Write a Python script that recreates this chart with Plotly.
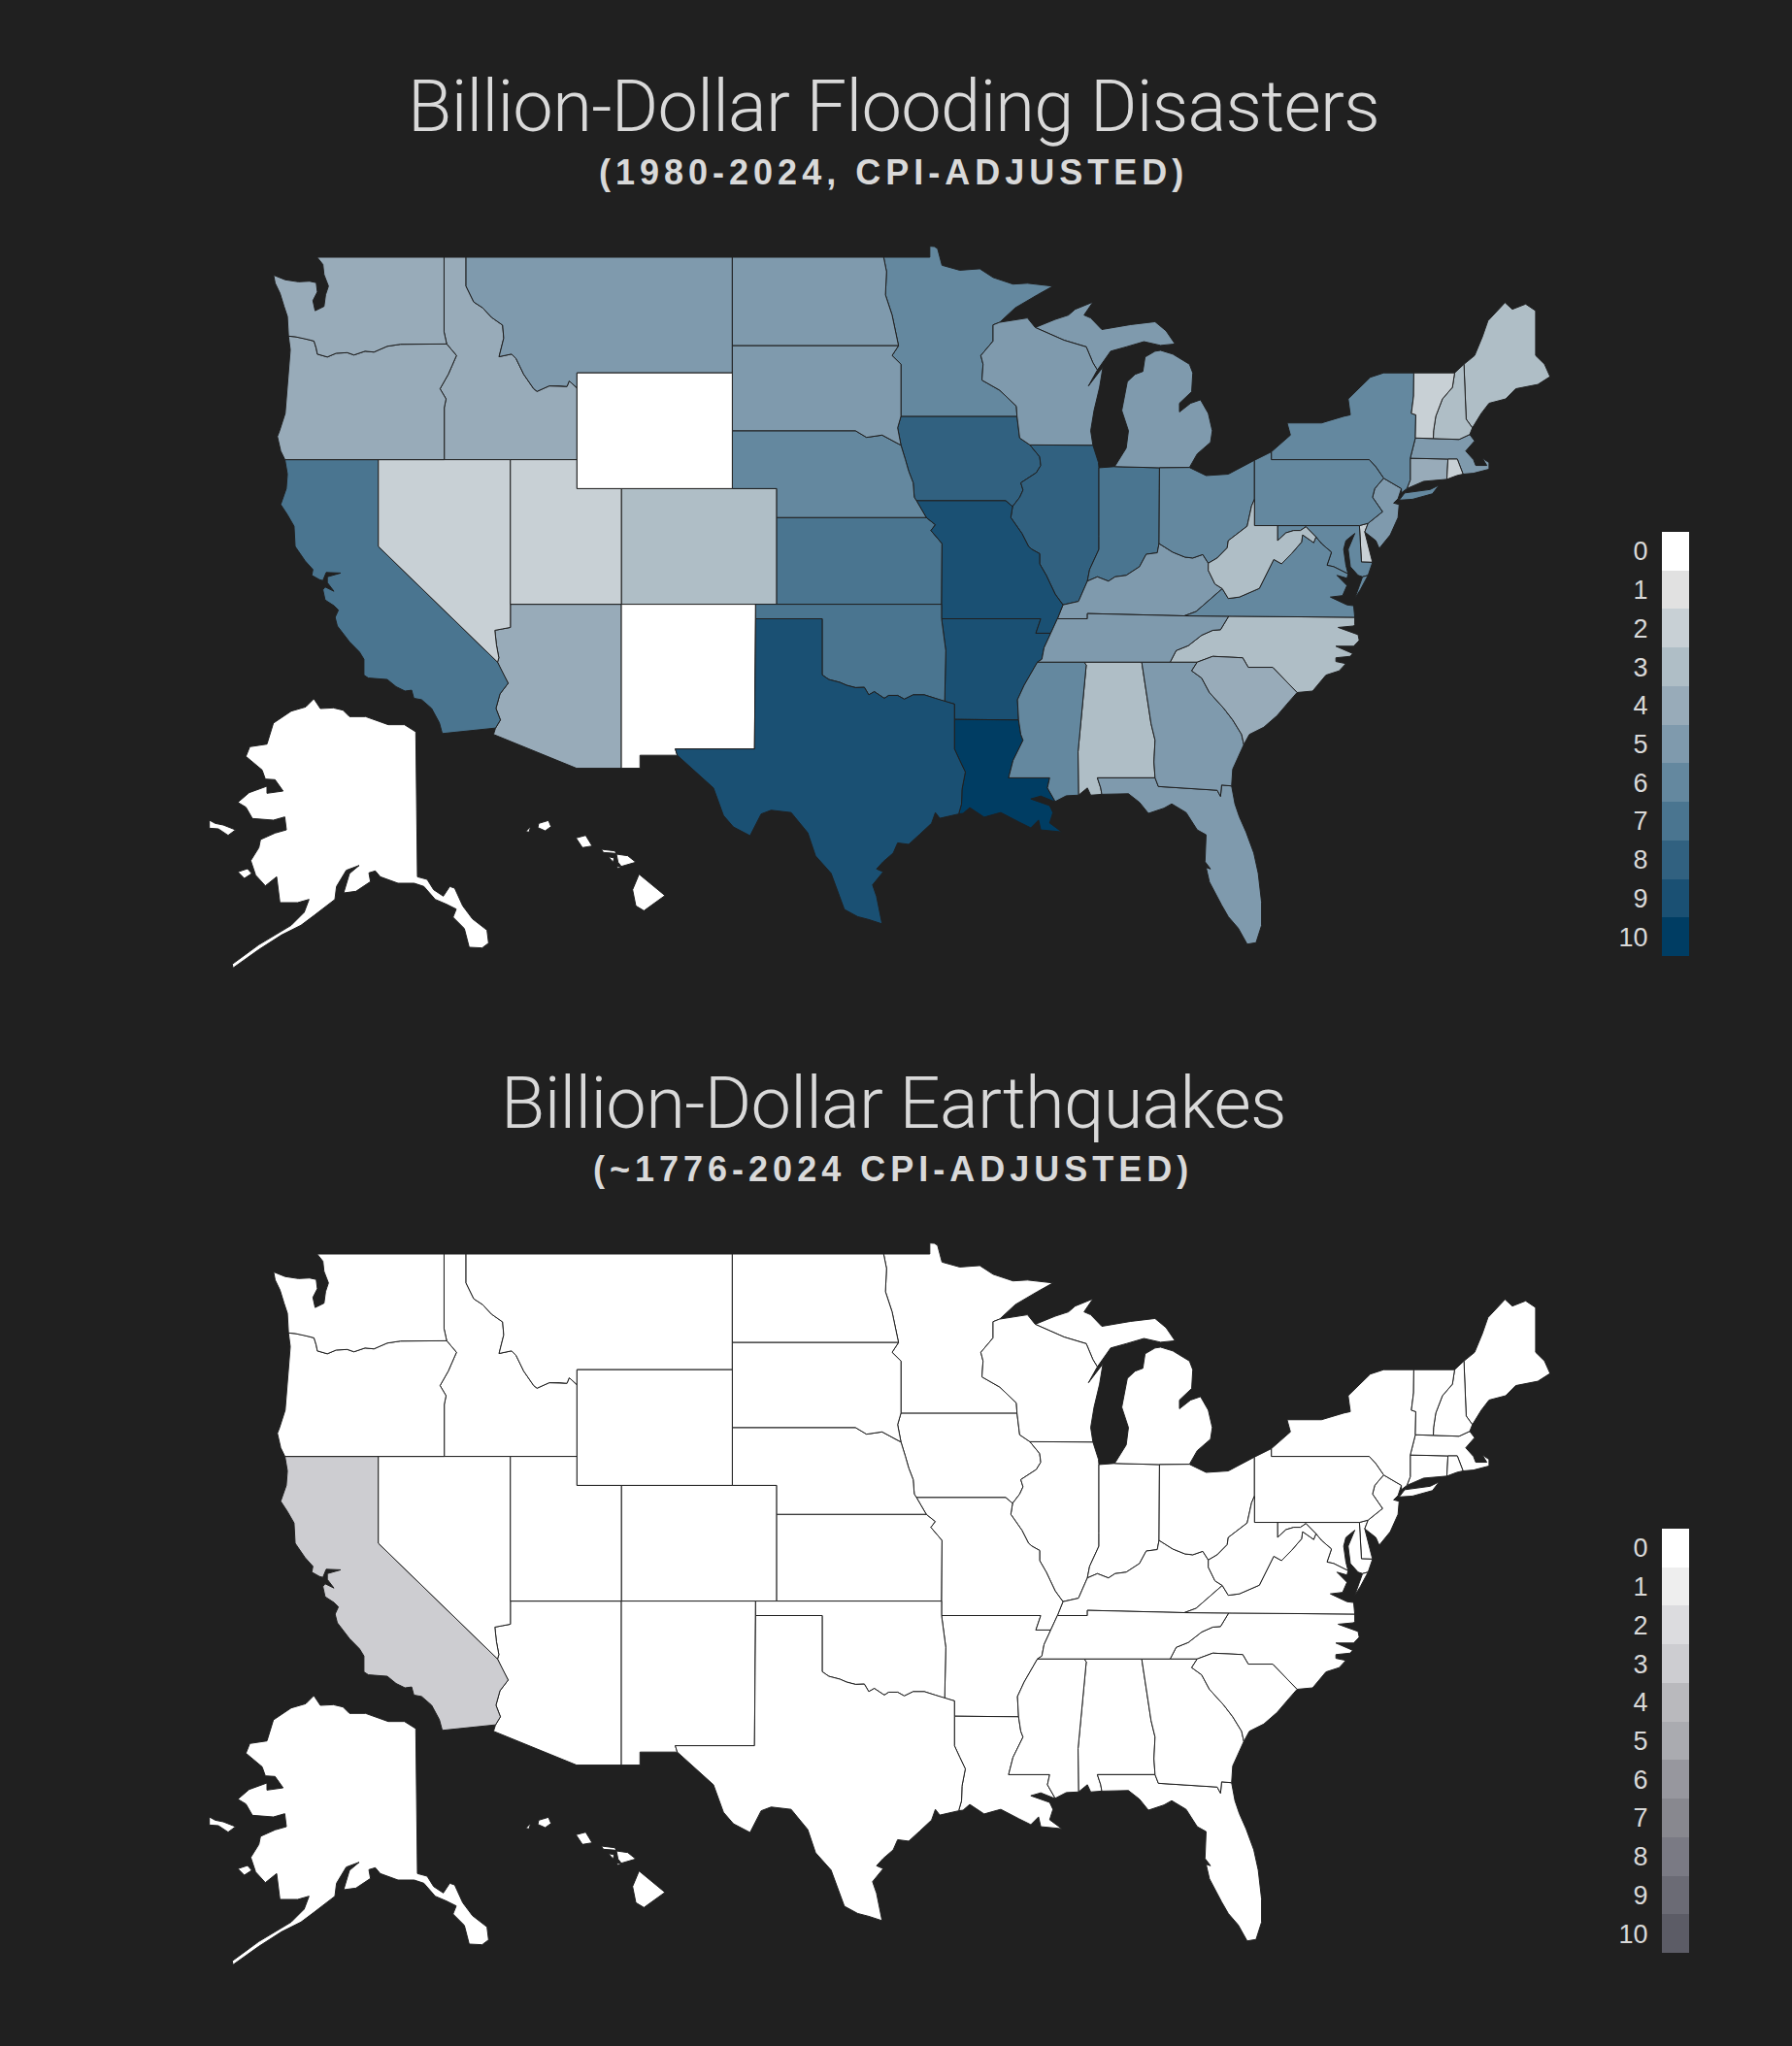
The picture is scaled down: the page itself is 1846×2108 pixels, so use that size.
import plotly.graph_objects as go

# values per state
STATES = ["AK","AL","AR","AZ","CA","CO","CT","DE","FL","GA","HI","IA","ID","IL","IN","KS","KY","LA","MA","MD",
          "ME","MI","MN","MO","MS","MT","NC","ND","NE","NH","NJ","NM","NV","NY","OH","OK","OR","PA","RI","SC",
          "SD","TN","TX","UT","VA","VT","WA","WI","WV","WY"]
FLOOD = [0,3,9,4,7,3,4,2,5,5,0,8,4,8,7,7,5,10,5,6,
         3,5,6,9,6,5,3,5,6,3,5,0,2,6,6,7,4,6,2,4,
         5,5,9,2,6,2,4,5,3,0]
QUAKE = [3 if s == "CA" else 0 for s in STATES]

LEVELS = list(range(11))
BLUES = ["#ffffff","#e1e1e1","#c8d0d5","#afbec6","#98abb9","#7f9aad","#64889f","#4a7590","#316180","#1a5073","#003d63"]
GREYS = ["#ffffff","#eeeeee","#dcdcdf","#cdcdd1","#b9b9bd","#aaabb0","#97979e","#88888f","#7a7a84","#6b6b75","#5c5c66"]

TITLES = ["Billion-Dollar Flooding Disasters", "Billion-Dollar Earthquakes"]
SUBTITLES = ["(1980-2024, CPI-ADJUSTED)", "(~1776-2024 CPI-ADJUSTED)"]

BG = "#202020"
TXT = "#d9d9d9"

# No geodata is available offline (plotly fetches its topojson from a CDN),
# so these outlines are hand traced (lon, lat) and drawn on plain axes.
COLUMBIA = [(-124.05,46.27),(-123.75,46.25),(-123.4,46.2),(-123.15,46.15),(-122.9,46.1),(-122.8,45.85),(-122.75,45.65),(-122.3,45.55),(-121.9,45.68),(-121.4,45.7),(-121.1,45.62),(-120.6,45.75),(-120.2,45.72),(-119.6,45.92),(-119.0,45.99),(-116.92,46.0)]
WA_COAST = [(-124.05,46.27),(-124.07,46.65),(-124.1,46.95),(-124.25,47.3),(-124.43,47.75),(-124.65,48.1),(-124.72,48.38),(-124.2,48.22),(-123.6,48.15),(-123.1,48.17),(-122.8,48.12),(-122.75,47.8),(-122.95,47.5),(-122.85,47.15),(-122.45,47.3),(-122.38,47.7),(-122.25,48.0),(-122.45,48.4),(-122.5,48.75),(-122.76,49.0)]
OR_COAST = [(-124.05,46.27),(-123.97,45.8),(-124.05,45.0),(-124.12,44.4),(-124.2,43.6),(-124.45,43.0),(-124.55,42.8),(-124.4,42.3),(-124.21,42.0)]
SNAKE = [(-116.92,46.0),(-116.48,45.6),(-116.68,45.25),(-116.85,44.95),(-117.22,44.45),(-117.05,44.23),(-116.95,44.1),(-117.03,43.8),(-117.03,42.0)]
BITTERROOT = [(-116.05,49.0),(-116.05,48.0),(-115.7,47.45),(-115.3,47.25),(-114.9,46.92),(-114.4,46.65),(-114.35,46.2),(-114.56,45.56),(-114.0,45.65),(-113.8,45.5),(-113.45,44.95),(-113.0,44.45),(-112.85,44.36),(-112.3,44.55),(-111.85,44.55),(-111.5,44.53),(-111.4,44.72),(-111.05,44.48)]
CA_COAST = [(-124.21,42.0),(-124.1,41.5),(-124.15,41.0),(-124.4,40.45),(-124.1,40.1),(-123.8,39.7),(-123.75,39.0),(-123.3,38.5),(-122.95,38.2),(-123.0,38.0),(-122.65,37.85),(-122.5,37.82),(-122.35,38.1),(-121.7,38.08),(-122.3,37.95),(-122.3,37.75),(-122.0,37.45),(-122.4,37.6),(-122.5,37.5),(-122.4,37.15),(-122.0,36.95),(-121.8,36.8),(-121.95,36.55),(-121.85,36.25),(-121.3,35.7),(-120.85,35.35),(-120.65,35.1),(-120.65,34.55),(-120.45,34.45),(-119.6,34.4),(-119.2,34.15),(-118.8,34.0),(-118.5,34.03),(-118.4,33.75),(-118.05,33.7),(-117.6,33.4),(-117.25,32.9),(-117.12,32.53)]
COLORADO_R = [(-114.72,32.72),(-114.5,33.0),(-114.7,33.4),(-114.52,33.9),(-114.15,34.27),(-114.45,34.7),(-114.63,35.0)]
AZ_NV = [(-114.63,35.0),(-114.57,35.15),(-114.68,35.6),(-114.75,36.1),(-114.4,36.15),(-114.05,36.2),(-114.05,37.0)]
RED_R = [(-100.0,34.56),(-99.7,34.4),(-99.2,34.3),(-98.9,34.2),(-98.5,34.12),(-98.1,34.13),(-97.9,33.87),(-97.65,33.98),(-97.2,33.75),(-97.0,33.85),(-96.6,33.85),(-96.3,33.72),(-95.9,33.87),(-95.4,33.87),(-94.9,33.75),(-94.48,33.64)]
SABINE = [(-94.04,33.55),(-94.04,33.02),(-94.04,32.0),(-93.8,31.6),(-93.55,31.2),(-93.7,30.6),(-93.72,30.1),(-93.85,29.75)]
TX_COAST = [(-93.85,29.75),(-94.7,29.6),(-94.9,29.8),(-95.07,29.43),(-95.6,29.05),(-96.1,28.7),(-96.6,28.75),(-96.8,28.4),(-97.25,28.1),(-97.55,27.85),(-97.25,27.75),(-97.73,27.3),(-97.55,26.9),(-97.3,25.95)]
RIO_GRANDE = [(-97.3,25.95),(-97.9,26.1),(-98.4,26.2),(-99.0,26.45),(-99.4,27.25),(-99.6,27.7),(-100.3,28.3),(-100.65,29.1),(-101.4,29.8),(-102.3,29.88),(-102.75,29.75),(-103.25,29.0),(-104.0,29.3),(-104.45,29.7),(-104.9,30.65),(-106.0,31.4),(-106.53,31.78),(-106.62,32.0)]
MO_R = [(-96.45,42.5),(-96.25,42.0),(-96.1,41.6),(-95.9,41.2),(-95.85,40.7),(-95.75,40.58)]
NE_SD = [(-104.05,43.0),(-98.5,43.0),(-98.0,42.77),(-97.3,42.85),(-96.7,42.6),(-96.45,42.5)]
KS_MO = [(-95.75,40.58),(-95.31,40.0),(-94.9,39.75),(-95.1,39.55),(-94.6,39.1),(-94.62,37.0)]
SD_E = [(-96.56,45.94),(-96.85,45.6),(-96.45,45.3),(-96.45,43.5),(-96.6,43.1),(-96.45,42.5)]
ND_E = [(-97.23,49.0),(-97.1,48.5),(-97.15,47.7),(-96.85,47.0),(-96.56,45.94)]
MN_NORTH = [(-97.23,49.0),(-95.15,49.0),(-95.15,49.38),(-94.95,49.37),(-94.8,49.3),(-94.6,48.72),(-93.8,48.55),(-92.9,48.6),(-92.3,48.3),(-91.4,48.07),(-90.75,48.1),(-89.6,48.0),(-90.3,47.7),(-91.3,47.25),(-92.0,46.75)]
MN_WI = [(-92.0,46.75),(-92.3,46.66),(-92.3,46.1),(-92.85,45.6),(-92.75,45.3),(-92.8,44.75),(-92.0,44.4),(-91.25,43.85),(-91.22,43.5)]
IA_IL = [(-91.22,43.5),(-91.1,42.75),(-90.64,42.51),(-90.2,42.1),(-90.15,41.8),(-90.35,41.55),(-91.05,41.2),(-90.95,40.95),(-91.1,40.7),(-91.42,40.38)]
IL_MO = [(-91.42,40.38),(-91.5,40.0),(-91.0,39.45),(-90.7,39.0),(-90.55,38.9),(-90.2,38.75),(-90.2,38.4),(-89.9,38.0),(-89.5,37.35),(-89.15,36.98)]
MISS_TN = [(-89.7,36.0),(-90.0,35.5),(-90.1,35.1),(-90.3,35.0)]
MISS_AR = [(-90.3,35.0),(-90.6,34.6),(-90.9,34.2),(-91.2,33.7),(-91.15,33.0)]
MISS_LA = [(-91.15,33.0),(-91.05,32.5),(-90.95,32.3),(-91.4,31.6),(-91.6,31.0),(-89.75,31.0),(-89.85,30.65),(-89.5,30.18)]
LA_COAST = [(-89.5,30.18),(-89.6,30.2),(-90.15,30.37),(-90.6,30.27),(-89.75,30.04),(-89.6,29.8),(-89.75,29.44),(-89.2,29.13),(-90.15,29.2),(-90.25,29.54),(-90.6,29.27),(-91.15,29.48),(-91.95,29.8),(-92.1,29.77),(-92.7,29.64),(-93.35,29.97),(-93.65,29.77),(-93.85,29.75)]
MS_AL = [(-88.2,35.0),(-88.1,34.9),(-88.47,31.9),(-88.45,30.4)]
AL_GA = [(-85.6,35.0),(-85.18,32.87),(-85.0,32.3),(-85.05,31.55),(-85.0,31.0)]
SAVANNAH = [(-83.1,35.0),(-83.35,34.7),(-82.9,34.45),(-82.55,33.95),(-81.9,33.4),(-81.5,33.0),(-81.1,32.5),(-81.0,32.15)]
FL_GA = [(-85.0,31.0),(-84.85,30.7),(-82.2,30.57),(-82.05,30.36),(-82.0,30.75),(-81.55,30.72)]
FL_COAST = [(-81.55,30.72),(-81.4,30.1),(-81.2,29.65),(-80.9,29.13),(-80.55,28.4),(-80.35,27.7),(-80.2,26.7),(-80.2,25.9),(-80.45,25.3),(-80.85,25.25),(-81.25,25.8),(-81.7,26.2),(-82.0,26.6),(-82.55,27.4),(-82.7,27.9),(-82.5,27.85),(-82.75,28.1),(-82.7,29.03),(-83.1,29.2),(-83.6,29.8),(-84.25,30.1),(-84.6,29.95),(-85.3,29.77),(-85.7,30.15),(-86.2,30.45),(-87.4,30.43),(-87.45,30.65),(-87.6,31.0)]
NC_SC = [(-83.1,35.0),(-82.4,35.2),(-81.05,35.15),(-80.8,34.82),(-79.7,34.82),(-78.6,33.95)]
NC_TN = [(-84.32,35.0),(-84.05,35.4),(-83.5,35.57),(-82.9,35.93),(-82.4,36.1),(-82.05,36.12),(-81.68,36.59)]
NC_COAST = [(-76.0,36.55),(-76.0,36.3),(-76.05,36.25),(-76.75,36.2),(-76.1,36.0),(-75.85,35.95),(-75.8,35.75),(-76.05,35.55),(-76.85,35.55),(-76.1,35.3),(-76.2,35.2),(-76.85,35.15),(-76.85,35.02),(-76.4,34.95),(-76.7,34.7),(-77.3,34.55),(-77.9,34.0),(-78.6,33.95)]
SC_COAST = [(-78.6,33.95),(-79.0,33.6),(-79.5,33.15),(-80.1,32.75),(-80.75,32.5),(-81.0,32.15)]
KY_S = [(-89.15,36.98),(-89.4,36.5),(-88.05,36.5),(-88.05,36.68),(-83.68,36.6)]
KY_VA = [(-83.68,36.6),(-83.15,36.75),(-82.7,37.05),(-81.97,37.54)]
BIG_SANDY = [(-81.97,37.54),(-82.3,37.7),(-82.6,38.17),(-82.6,38.42)]
OHIO_WV = [(-80.52,40.63),(-80.65,40.4),(-80.85,39.7),(-81.7,39.2),(-81.75,38.95),(-82.2,38.6),(-82.6,38.42)]
OHIO_OH = [(-82.6,38.42),(-82.85,38.72),(-83.3,38.6),(-83.65,38.63),(-84.2,38.8),(-84.82,39.1)]
OHIO_IN = [(-84.82,39.1),(-84.9,38.78),(-85.4,38.73),(-85.7,38.3),(-86.3,38.0),(-86.8,37.95),(-87.1,37.8),(-87.6,37.95),(-88.05,37.8)]
IL_IN = [(-87.53,41.72),(-87.53,39.35),(-87.53,38.9),(-87.95,38.2),(-88.05,37.8)]
WI_MI = [(-90.4,46.57),(-89.1,46.13),(-88.1,45.9),(-87.8,45.35),(-87.6,45.1)]
MD_WV = [(-79.48,39.72),(-79.48,39.2),(-79.1,39.47),(-78.75,39.55),(-78.45,39.55),(-78.2,39.68),(-77.75,39.33)]
POTOMAC = [(-76.3,38.05),(-76.95,38.3),(-77.25,38.35),(-77.05,38.8),(-77.5,39.1),(-77.75,39.33)]
VA_WV = [(-77.75,39.33),(-77.85,39.13),(-78.35,39.4),(-78.4,39.15),(-78.85,38.75),(-79.3,38.4),(-79.65,38.55),(-80.3,37.55),(-81.2,37.25),(-81.7,37.2),(-81.97,37.54)]
PA_NJ = [(-75.35,42.0),(-75.05,41.75),(-74.7,41.36),(-75.1,41.0),(-75.2,40.7),(-74.75,40.2),(-75.4,39.8)]
VT_NH = [(-71.5,45.0),(-71.6,44.5),(-72.05,44.1),(-72.35,43.5),(-72.45,43.0),(-72.46,42.73)]
VT_NY = [(-73.34,45.0),(-73.35,44.2),(-73.45,43.6),(-73.25,43.55),(-73.27,42.75)]


def rev(arc):
    return arc[::-1]


OUTLINES = {
    "WA": [[(-117.04,49.0),(-117.04,46.42)] + rev(COLUMBIA) + WA_COAST],
    "OR": [COLUMBIA + SNAKE + rev(OR_COAST)],
    "CA": [CA_COAST + COLORADO_R + [(-120.0,39.0),(-120.0,42.0)]],
    "NV": [[(-120.0,42.0),(-114.05,42.0)] + rev(AZ_NV) + [(-120.0,39.0)]],
    "ID": [[(-117.04,49.0)] + BITTERROOT + [(-111.05,42.0)] + rev(SNAKE) + [(-117.04,46.42)]],
    "MT": [BITTERROOT + [(-111.05,45.0),(-104.05,45.0),(-104.05,49.0)]],
    "WY": [[(-111.05,45.0),(-104.05,45.0),(-104.05,41.0),(-111.05,41.0)]],
    "UT": [[(-114.05,42.0),(-111.05,42.0),(-111.05,41.0),(-109.05,41.0),(-109.05,37.0),(-114.05,37.0)]],
    "CO": [[(-109.05,41.0),(-102.05,41.0),(-102.05,37.0),(-109.05,37.0)]],
    "AZ": [AZ_NV + [(-109.05,37.0),(-109.05,31.33),(-111.07,31.33),(-114.81,32.5)] + COLORADO_R],
    "NM": [[(-109.05,37.0),(-103.0,37.0),(-103.05,32.0),(-106.62,32.0),(-106.53,31.78),(-108.21,31.78),(-108.21,31.33),(-109.05,31.33)]],
    "TX": [[(-103.0,36.5),(-100.0,36.5)] + RED_R + SABINE + TX_COAST + RIO_GRANDE + [(-103.05,32.0)]],
    "OK": [[(-103.0,37.0),(-94.62,37.0),(-94.62,36.5),(-94.43,35.4)] + rev(RED_R) + [(-100.0,36.5),(-103.0,36.5)]],
    "KS": [[(-102.05,40.0)] + KS_MO[1:] + [(-102.05,37.0)]],
    "NE": [NE_SD + MO_R + [(-95.31,40.0),(-102.05,40.0),(-102.05,41.0),(-104.05,41.0)]],
    "SD": [[(-104.05,45.94)] + SD_E + rev(NE_SD)],
    "ND": [[(-104.05,49.0)] + ND_E + [(-104.05,45.94)]],
    "MN": [MN_NORTH + MN_WI + [(-96.45,43.5),(-96.45,45.3),(-96.85,45.6)] + rev(ND_E)],
    "IA": [[(-96.45,43.5)] + IA_IL + [(-91.73,40.58)] + rev(MO_R) + [(-96.6,43.1)]],
    "MO": [KS_MO + [(-94.62,36.5),(-90.15,36.5),(-90.37,36.0),(-89.7,36.0),(-89.55,36.25),(-89.4,36.5)] + rev(IL_MO) + [(-91.73,40.58)]],
    "AR": [[(-94.62,36.5),(-90.15,36.5),(-90.37,36.0)] + MISS_TN + MISS_AR + [(-94.04,33.02),(-94.04,33.55),(-94.48,33.64),(-94.43,35.4)]],
    "LA": [MISS_LA + LA_COAST + rev(SABINE[1:])],
    "MS": [MISS_AR + MISS_LA[1:] + [(-89.0,30.38)] + rev(MS_AL)],
    "AL": [MS_AL + [(-88.05,30.65),(-87.9,30.4),(-87.4,30.43),(-87.45,30.65),(-87.6,31.0)] + rev(AL_GA)],
    "GA": [AL_GA + FL_GA + [(-81.5,31.3),(-81.25,31.7)] + rev(SAVANNAH)],
    "FL": [FL_GA + FL_COAST],
    "SC": [NC_SC + SC_COAST + rev(SAVANNAH)],
    "NC": [NC_TN + NC_COAST + rev(NC_SC)],
    "TN": [[(-89.7,36.0),(-89.55,36.25)] + KY_S[1:] + [(-81.68,36.59)] + rev(NC_TN) + [(-85.6,35.0),(-88.2,35.0)] + rev(MISS_TN)],
    "KY": [KY_S + KY_VA + BIG_SANDY + OHIO_OH + OHIO_IN + [(-88.45,37.1)]],
    "IN": [[(-87.53,41.72),(-87.2,41.75),(-86.82,41.76),(-84.8,41.72)] + OHIO_IN + rev(IL_IN)[1:]],
    "IL": [[(-90.64,42.51),(-87.8,42.5),(-87.55,41.9)] + IL_IN + [(-88.45,37.1)] + rev(IL_MO) + rev(IA_IL[2:])],
    "WI": [MN_WI + IA_IL[:3] + [(-87.8,42.5),(-87.9,43.0),(-87.75,43.7),(-87.5,44.5),(-87.35,45.2),(-88.0,44.55)] + rev(WI_MI) + [(-90.75,46.9),(-91.2,46.85)]],
    "MI": [[(-86.82,41.76),(-86.3,42.4),(-86.2,43.0),(-86.5,43.7),(-86.25,44.7),(-85.9,44.95),(-85.55,45.05),(-85.45,45.55),(-85.0,45.75),(-84.75,45.78),(-84.2,45.65),(-83.45,45.3),(-83.3,45.0),(-83.35,44.35),(-83.9,43.95),(-83.9,43.65),(-83.4,43.95),(-82.95,44.07),(-82.6,43.6),(-82.42,43.0),(-82.5,42.6),(-83.1,42.2),(-83.45,41.73),(-84.8,41.72)],
           WI_MI + [(-87.0,45.75),(-86.3,45.9),(-85.5,46.08),(-84.75,45.95),(-84.1,46.0),(-84.5,46.45),(-85.0,46.77),(-86.1,46.67),(-87.4,46.5),(-87.9,46.9),(-88.2,47.0),(-87.8,47.45),(-88.6,47.2),(-88.9,47.0),(-89.5,46.85)]],
    "OH": [[(-84.8,41.72),(-83.45,41.73),(-82.7,41.45),(-81.7,41.5),(-80.52,41.98)] + OHIO_WV + OHIO_OH],
    "WV": [[(-80.52,39.72)] + MD_WV + VA_WV + BIG_SANDY + rev(OHIO_WV)],
    "VA": [[(-83.68,36.6),(-81.68,36.59),(-76.0,36.55),(-76.05,36.95),(-76.35,36.98),(-77.1,37.25),(-76.55,37.3),(-76.35,37.65),(-76.8,38.0),(-76.35,37.9)] + POTOMAC + VA_WV + rev(KY_VA)[:-1],
           [(-75.4,38.0),(-75.65,37.95),(-76.0,37.2),(-75.75,37.5)]],
    "MD": [[(-79.48,39.72),(-75.79,39.72),(-75.7,38.46),(-75.2,38.45),(-75.4,38.0),(-75.65,37.95),(-75.85,38.0),(-76.2,38.3),(-76.3,38.9),(-76.0,39.45),(-76.4,39.2),(-76.5,38.9),(-76.4,38.35)] + POTOMAC + rev(MD_WV)],
    "DE": [[(-75.79,39.72),(-75.4,39.8),(-75.55,39.5),(-75.4,39.05),(-75.2,38.45),(-75.7,38.46)]],
    "PA": [[(-80.52,41.98),(-79.76,42.27),(-79.76,42.0)] + PA_NJ + [(-75.79,39.72),(-80.52,39.72),(-80.52,40.63)]],
    "NJ": [[(-73.9,41.0)] + PA_NJ[2:] + [(-75.55,39.5),(-75.05,39.2),(-74.9,38.93),(-74.4,39.4),(-74.05,40.0),(-74.0,40.45),(-74.25,40.5),(-74.05,40.65)]],
    "NY": [[(-79.76,42.27),(-78.9,42.85),(-79.05,43.27),(-77.5,43.27),(-76.5,43.5),(-76.2,43.55),(-76.3,44.1),(-75.3,44.85),(-74.7,45.0)] + VT_NY + [(-73.5,42.05),(-73.5,41.3),(-73.65,41.0),(-73.9,40.85),(-73.9,41.0)] + rev(PA_NJ[:3]) + [(-79.76,42.0)],
           [(-74.0,40.6),(-73.75,40.85),(-72.6,40.97),(-72.2,41.12),(-72.5,40.82),(-73.4,40.63)]],
    "VT": [VT_NY + rev(VT_NH)],
    "NH": [[(-71.08,45.3),(-70.98,43.4),(-70.7,43.1),(-70.82,42.87),(-71.3,42.7)] + rev(VT_NH)],
    "ME": [[(-71.08,45.3),(-70.6,45.6),(-70.25,46.25),(-70.0,46.8),(-69.23,47.43),(-68.9,47.2),(-68.3,47.38),(-67.85,47.15),(-67.85,45.6),(-67.45,45.3),(-67.2,44.87),(-67.75,44.6),(-68.75,44.45),(-69.2,44.1),(-69.95,43.95),(-70.3,43.6),(-70.7,43.1),(-70.98,43.4)]],
    "MA": [[(-73.5,42.05),(-73.27,42.75),(-72.46,42.73),(-71.3,42.7),(-70.82,42.87),(-70.6,42.65),(-71.0,42.3),(-70.65,42.0),(-70.55,41.8),(-70.05,41.8),(-70.25,42.05),(-69.95,41.9),(-69.95,41.67),(-70.65,41.53),(-71.12,41.5),(-71.38,42.02),(-71.8,42.02)]],
    "RI": [[(-71.8,42.02),(-71.38,42.02),(-71.12,41.5),(-71.4,41.45),(-71.85,41.32)]],
    "CT": [[(-73.5,42.05),(-71.8,42.02),(-71.85,41.32),(-72.9,41.25),(-73.65,41.0),(-73.5,41.3)]],
}

# the two insets, traced in pixels of a 3x map crop
AK_INSET = [
    [(370,60),(390,90),(430,88),(460,95),(480,115),(530,115),(600,140),(650,140),(685,162),(690,610),(720,618),(740,650),(770,670),(790,640),(805,645),(830,700),(860,740),(905,775),(910,815),(890,830),(850,828),(835,770),(800,735),(810,710),(780,695),(745,680),(710,640),(680,630),(630,630),(575,610),(560,592),(540,598),(545,625),(500,655),(462,660),(480,600),(510,575),(470,590),(440,640),(435,680),(370,730),(330,760),(270,790),(200,835),(120,892),(118,880),(200,820),(300,760),(340,720),(355,680),(320,690),(265,690),(255,610),(220,638),(190,605),(175,560),(200,520),(205,495),(250,475),(285,465),(280,425),(245,435),(180,430),(160,395),(135,380),(170,350),(225,330),(225,352),(275,345),(250,310),(220,308),(210,280),(160,238),(172,208),(225,200),(245,135),(300,98),(345,85)],
    [(47,435),(65,445),(90,450),(128,465),(105,482),(75,462),(47,460)],
    [(135,595),(165,585),(178,600),(155,615)],
]
HI_INSET = [
    [(1375,602),(1410,630),(1455,668),(1390,715),(1365,700),(1355,650)],
    [(1305,540),(1340,545),(1365,565),(1320,578),(1310,565)],
    [(1258,525),(1300,530),(1305,538),(1265,535)],
    [(1280,548),(1298,552),(1295,565)],
    [(1305,578),(1320,580),(1310,585)],
    [(1180,490),(1210,482),(1230,515),(1200,520)],
    [(1065,445),(1095,436),(1103,455),(1085,468),(1062,458)],
    [(1025,470),(1040,455),(1035,472)],
]

# map scale of the reference, px per degree
PX_LON, PX_LAT = 22.86, 29.8
LON0, LAT0 = -137.05, 49.0
Y_LAT0 = 265
W, H = 1846, 2108
MAP_TOP, MAP_BOTTOM = 190, 1040
MAP_SHIFT = 1027


def from_crop(ring):
    return [(LON0 + (200 + x / 3) / PX_LON, LAT0 - (700 + y / 3 - Y_LAT0) / PX_LAT) for x, y in ring]


OUTLINES["AK"] = [from_crop(r) for r in AK_INSET]
OUTLINES["HI"] = [from_crop(r) for r in HI_INSET]


def ring_xy(rings):
    xs, ys = [], []
    for ring in rings:
        closed = ring + ring[:1]
        xs += [p[0] for p in closed] + [None]
        ys += [p[1] for p in closed] + [None]
    return xs, ys


fig = go.Figure()

for i, (vals, colors) in enumerate([(FLOOD, BLUES), (QUAKE, GREYS)]):
    off = i * MAP_SHIFT
    mx, my = "x" + str(2 * i + 1), "y" + str(2 * i + 1)
    bx, by = "x" + str(2 * i + 2), "y" + str(2 * i + 2)
    for s, v in zip(STATES, vals):
        xs, ys = ring_xy(OUTLINES[s])
        fig.add_trace(go.Scatter(
            x=xs, y=ys, xaxis=mx, yaxis=my, mode="lines", fill="toself", fillcolor=colors[v],
            line=dict(color=BG, width=1), name=s, text=str(v), hoverinfo="name+text",
        ))
    fig.add_trace(go.Heatmap(
        z=[[v] for v in LEVELS], y=LEVELS, x=[0], xaxis=bx, yaxis=by, zmin=0, zmax=10,
        colorscale=[[k / 10, c] for k, c in enumerate(colors)], showscale=False,
    ))
    fig.update_layout({
        "xaxis" + str(2 * i + 1): dict(domain=[0, 1], range=[LON0, LON0 + W / PX_LON], visible=False, anchor=my),
        "yaxis" + str(2 * i + 1): dict(
            domain=[1 - (MAP_BOTTOM + off) / H, 1 - (MAP_TOP + off) / H], anchor=mx, visible=False,
            range=[LAT0 - (MAP_BOTTOM - Y_LAT0) / PX_LAT, LAT0 + (Y_LAT0 - MAP_TOP) / PX_LAT],
        ),
        "xaxis" + str(2 * i + 2): dict(domain=[1712 / W, 1740 / W], visible=False, anchor=by),
        "yaxis" + str(2 * i + 2): dict(
            domain=[1 - (985 + off) / H, 1 - (548 + off) / H], anchor=bx,
            autorange="reversed", tickvals=LEVELS, ticks="outside", ticklen=8, tickcolor="rgba(0,0,0,0)",
            tickfont=dict(family="Liberation Sans", size=27, color=TXT), showgrid=False, zeroline=False, showline=False,
        ),
    })
    fig.add_annotation(
        text='<span style="letter-spacing:-0.7px">' + TITLES[i] + "</span>",
        xref="paper", yref="paper", x=920 / W, y=1 - (109 + off) / H, yanchor="middle", showarrow=False,
        font=dict(family="Roboto", size=74, color=TXT, weight=300),
    )
    fig.add_annotation(
        text='<span style="letter-spacing:5px">' + SUBTITLES[i] + "</span>",
        xref="paper", yref="paper", x=920 / W, y=1 - (177 + off) / H, yanchor="middle", showarrow=False,
        font=dict(family="Liberation Sans", size=36, color=TXT, weight=700),
    )

fig.update_layout(
    width=W, height=H, margin=dict(l=0, r=0, t=0, b=0),
    paper_bgcolor=BG, plot_bgcolor=BG, showlegend=False,
)
fig.write_html("out.html", config=dict(displayModeBar=False),
               post_script="document.body.style.margin='0';document.body.style.background='" + BG + "';")
